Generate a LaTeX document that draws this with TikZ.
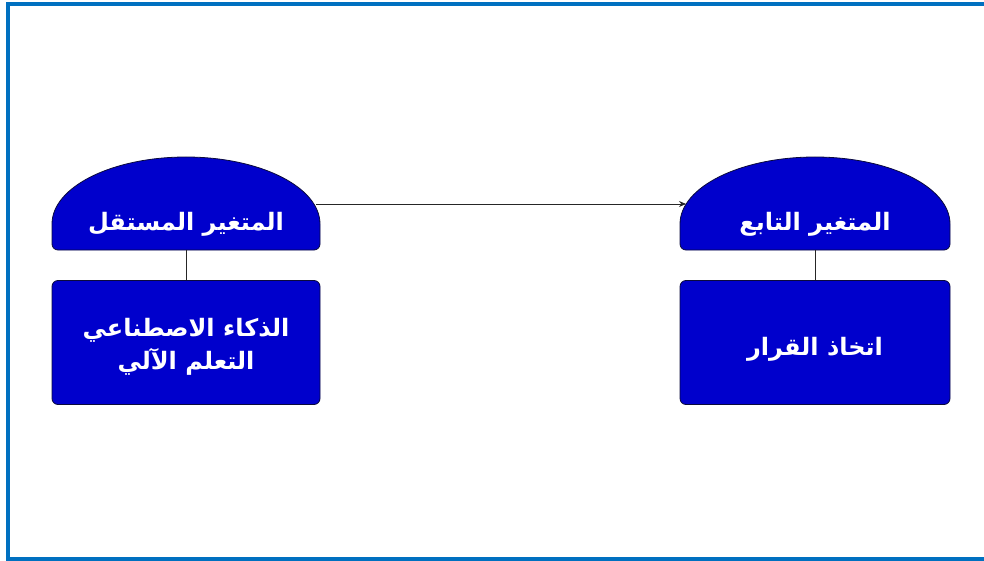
\documentclass[tikz,border=0pt]{standalone}
\usepackage{fontspec}
\TeXXeTstate=1
\newfontfamily\arabicfont[Script=Arabic]{DejaVu Sans}
\usetikzlibrary{arrows.meta}
\definecolor{frameblue}{RGB}{0,112,192}
\definecolor{boxblue}{RGB}{0,0,204}
\definecolor{boxline}{RGB}{10,10,60}
\tikzset{
  dome/.style={fill=boxblue,draw=boxline,line width=0.8pt},
  bluebox/.style={fill=boxblue,draw=boxline,line width=0.8pt,rounded corners=6pt},
  lbl/.style={text=white,font=\arabicfont\bfseries\fontsize{24}{33}\selectfont,align=center},
  link/.style={draw=black!85,line width=0.9pt},
}
\newcommand{\domepath}[4]{% left x, right x, top y, bottom y
  \pgfmathsetmacro{\cx}{(#1+#2)/2}
  \pgfmathsetmacro{\rx}{(#2-#1)/2}
  \path[dome] (#1,#4-6) -- (#1,224) arc[start angle=180,end angle=0,x radius=\rx,y radius=-67] -- (#2,#4-6) [rounded corners=6pt] -- (#2,#4) -- (#1,#4) [sharp corners] -- cycle;
}
\begin{document}
\begin{tikzpicture}[x=1pt,y=-1pt]
\useasboundingbox (0,0) rectangle (984,561);
\draw[frameblue,line width=3.5pt] (8,4) rectangle (1000,559);
% domes
\domepath{52}{320}{157}{250}
\domepath{680}{950}{157}{250}
\coordinate (d1b) at (186,250);
\coordinate (d2b) at (815,250);
\coordinate (d1r) at (316,204);
\coordinate (d2l) at (686,204);
\node[lbl] (t1) at (186,224) {\beginR المتغير المستقل\endR};
\node[lbl] (t2) at (815,224) {\beginR المتغير التابع\endR};
% boxes
\node[bluebox,minimum width=268pt,minimum height=124pt] (b1) at (186,342.5) {};
\node[bluebox,minimum width=270pt,minimum height=124pt] (b2) at (815,342.5) {};
\node[lbl] (bt1) at (186,347) {\beginR الذكاء الاصطناعي\endR\\\beginR التعلم  الآلي\endR};
\node[lbl] (bt2) at (815,349) {\beginR اتخاذ القرار\endR};
% connectors
\draw[link] (d1b) -- (b1.north);
\draw[link] (d2b) -- (b2.north);
\draw[link,-{Stealth[length=7pt,width=6pt]}] (d1r) -- (d2l);
\end{tikzpicture}
\end{document}
